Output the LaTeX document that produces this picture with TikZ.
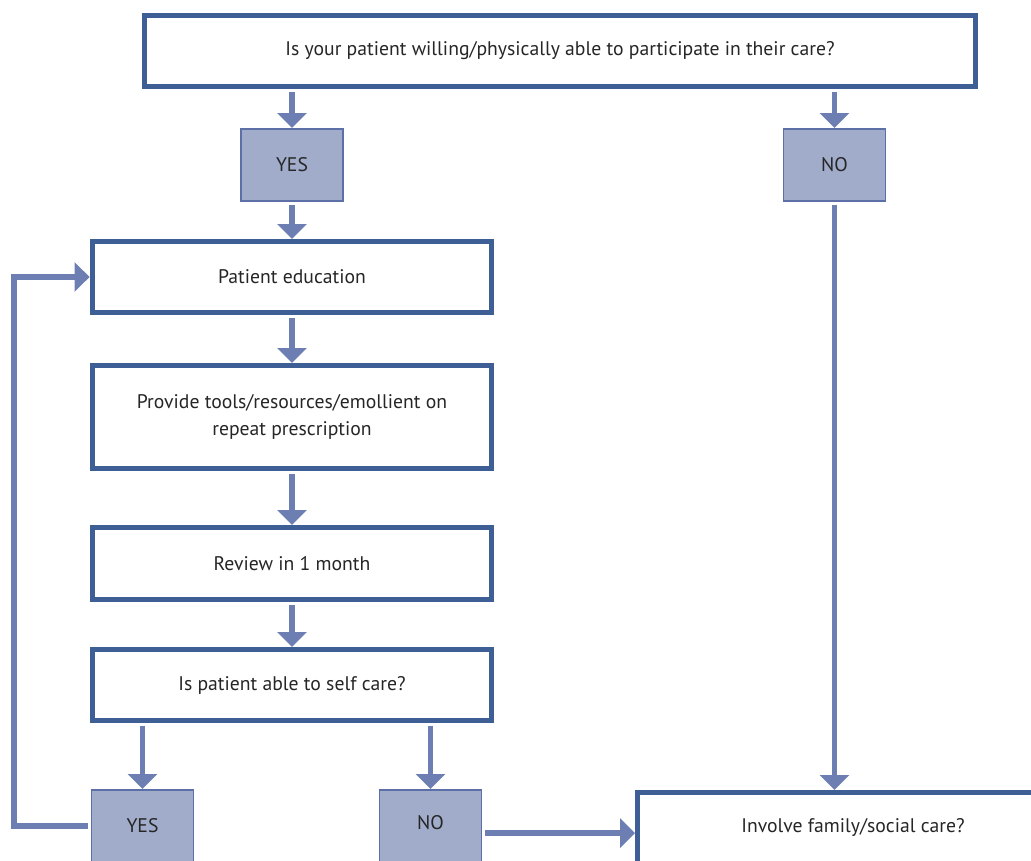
\documentclass[tikz,border=0pt]{standalone}
\usepackage{fontspec}
\setmainfont{PT Sans}
\usepackage{tikz}
\usetikzlibrary{arrows.meta}
\definecolor{boxblue}{HTML}{3E5E96}
\definecolor{arrowblue}{HTML}{6D7FB2}
\definecolor{ansfill}{HTML}{A1ACCB}
\definecolor{ansline}{HTML}{5C6FA6}

\begin{document}
\begin{tikzpicture}[x=0.02cm, y=-0.02cm,
  box/.style={rectangle, draw=boxblue, line width=2.83pt, fill=white,
    minimum width=8cm, minimum height=1.42cm, inner sep=0pt,
    font=\fontsize{11.2}{15.8}\selectfont, align=center, text=black!85},
  ans/.style={rectangle, draw=ansline, line width=0.85pt, fill=ansfill,
    minimum width=2.05cm, minimum height=1.45cm, inner sep=0pt,
    font=\fontsize{11.2}{13}\selectfont, text=black!85},
  flow/.style={draw=arrowblue, line width=3.4pt, shorten <=1.5pt,
    -{Triangle[width=16.4pt,length=8.5pt]}}
]
  \useasboundingbox (0,0) rectangle (1031,861);
  \clip (0,0) rectangle (1031,861);

  \node[box, minimum width=16.62cm] (q1) at (560,51) {Is your patient willing/physically able to participate in their care?};
  \node[ans] (yes1) at (292,165) {YES};
  \node[ans] (no1) at (834.5,165) {NO};
  \node[box] (edu) at (292,277) {Patient education};
  \node[box, minimum height=2.06cm] (tools) at (292,417) {Provide tools/resources/emollient on\\repeat prescription};
  \node[box, minimum height=1.44cm] (review) at (292,563.5) {Review in 1 month};
  \node[box] (able) at (292,685) {Is patient able to self care?};
  \node[ans] (yes2) at (142.5,826) {YES};
  \node[ans] (no2) at (430.5,826) {\raisebox{4pt}{NO}};
  \node[box, minimum width=8.62cm] (inv) at (853,828) {Involve family/social care?};
  \coordinate (loop) at (14,0);

  \draw[flow] (q1.south -| yes1) -- (yes1);
  \draw[flow] (q1.south -| no1) -- (no1);
  \draw[flow] (yes1) -- (edu);
  \draw[flow] (edu) -- (tools);
  \draw[flow] (tools) -- (review);
  \draw[flow] (review) -- (able);
  \draw[flow] (able.south -| yes2) -- (yes2);
  \draw[flow] (able.south -| no2) -- (no2);
  \draw[flow] (no1) -- (no1 |- inv.north);
  \draw[flow] ([yshift=-4pt]no2.east) -- ([yshift=-4pt]no2.east -| inv.west);
  \draw[flow] (yes2.west) -- (yes2.west -| loop) |- (edu.west);
\end{tikzpicture}
\end{document}
